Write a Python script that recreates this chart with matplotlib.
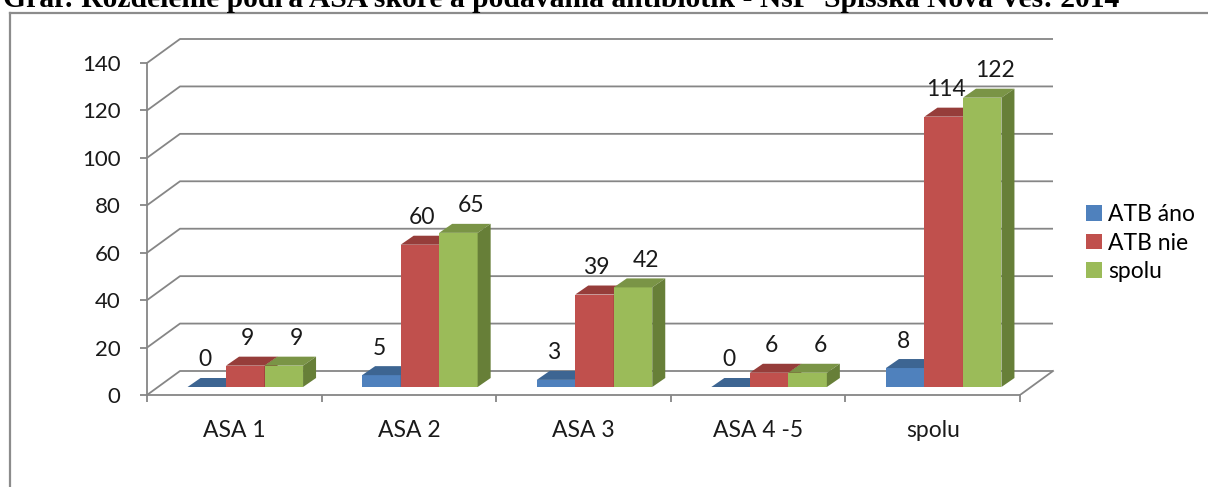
import matplotlib
matplotlib.use("Agg")
import matplotlib.pyplot as plt
from matplotlib.patches import Polygon, Patch
from matplotlib.lines import Line2D
import numpy as np

# data
categories = ["ASA 1", "ASA 2", "ASA 3", "ASA 4 -5", "spolu"]
series_names = ["ATB áno", "ATB nie", "spolu"]
atb_ano = [0, 5, 3, 0, 8]
atb_nie = [9, 60, 39, 6, 114]
spolu = [9, 65, 42, 6, 122]
series_values = [atb_ano, atb_nie, spolu]
yticks = list(range(0, 141, 20))
title = "Graf: Rozdelenie podľa ASA skóre a podávania antibiotík - NsP  Spišská Nová Ves: 2014"

front = ["#4F81BD", "#C0504D", "#9BBB59"]
top = ["#3D6592", "#963D3A", "#7A9446"]
side = ["#365A84", "#86332F", "#677F38"]
grid_c = "#868686"

plt.rcParams["font.family"] = ["Lato", "DejaVu Sans"]

W, H = 1208, 487
fig = plt.figure(figsize=(W / 100, H / 100), dpi=100)

# pixel geometry of the fake 3d box
X0, Y0 = 147, 395
SX = 174.6
SY = 332 / 140
XMAX, YMAX = 5.35, 156
ax = fig.add_axes([X0 / W, (H - Y0) / H, XMAX * SX / W, YMAX * SY / H])
ax.set_xlim(0, XMAX)
ax.set_ylim(0, YMAX)

DX, DY = 33 / SX, 24 / SY          # floor depth
BX0, BY0 = 11 / SX, 8 / SY         # bar base offset into depth
DDX, DDY = 13 / SX, 9 / SY         # bar depth
BW = 38.5 / SX
n = len(categories)

# back wall gridlines + side wall diagonals
for v in yticks:
    ax.plot([0, DX, n + DX], [v, v + DY, v + DY], color=grid_c, lw=1.3, zorder=1,
            solid_capstyle="butt")
ax.plot([n, n + DX], [0, DY], color=grid_c, lw=1.3, zorder=1)

# axes spines / ticks
for s in ["top", "right"]:
    ax.spines[s].set_visible(False)
ax.spines["left"].set_bounds(0, 140)
ax.spines["bottom"].set_bounds(0, n)
for s in ["left", "bottom"]:
    ax.spines[s].set_color(grid_c)
    ax.spines[s].set_linewidth(1.3)
    ax.spines[s].set_zorder(2)
ax.set_yticks(yticks)
ax.tick_params(axis="y", direction="out", length=5, width=1.3, color=grid_c,
               labelsize=16, pad=14, labelcolor="#1a1a1a")
ax.set_xticks(np.arange(n + 1))
ax.set_xticklabels([])
ax.set_xticks(np.arange(n) + 0.5, minor=True)
ax.set_xticklabels(categories, minor=True)
ax.tick_params(axis="x", which="major", direction="out", length=5, width=1.3, color=grid_c)
ax.tick_params(axis="x", which="minor", length=0, labelsize=16.5, pad=18, labelcolor="#1a1a1a")

# bars
lab_dx = [-2 / SX, 2 / SX, 13 / SX]
for i in range(n):
    for j, vals in enumerate(series_values):
        v = vals[i]
        xl = i + 0.5 + BX0 - 1.5 * BW + j * BW
        yb = BY0
        ax.add_patch(Polygon([(xl, yb), (xl + BW, yb), (xl + BW, yb + v), (xl, yb + v)],
                             closed=True, fc=front[j], ec="none", zorder=3))
        ax.add_patch(Polygon([(xl, yb + v), (xl + BW, yb + v), (xl + BW + DDX, yb + v + DDY),
                              (xl + DDX, yb + v + DDY)],
                             closed=True, fc=top[j], ec="none", zorder=3))
        ax.add_patch(Polygon([(xl + BW, yb), (xl + BW + DDX, yb + DDY),
                              (xl + BW + DDX, yb + v + DDY), (xl + BW, yb + v)],
                             closed=True, fc=side[j], ec="none", zorder=3))
        ax.text(xl + BW / 2 + lab_dx[j], yb + v + 27 / SY, str(v), ha="center", va="center",
                fontsize=16.5, color="#1a1a1a", zorder=4)

# legend
handles = [Patch(facecolor=c, edgecolor="none") for c in front]
fig.legend(handles, series_names, loc="upper left", bbox_to_anchor=(1086 / W, 1 - 204 / H),
           frameon=False, fontsize=16.5, handlelength=0.68, handleheight=0.68,
           handletextpad=0.3, labelspacing=0.33, borderpad=0, borderaxespad=0)

# title (cut at top) and frame
fig.text(3 / W, 1 - 7 / H, title, fontfamily="Liberation Serif", fontweight="bold",
         fontsize=21.3, va="baseline", ha="left", color="black")
fig.add_artist(Line2D([10 / W, 10 / W], [0, 1 - 13 / H], color="#8c8c8c", lw=1.6,
                      transform=fig.transFigure))
fig.add_artist(Line2D([10 / W, 1], [1 - 13 / H, 1 - 13 / H], color="#8c8c8c", lw=1.6,
                      transform=fig.transFigure))

fig.savefig("out.png", dpi=100)
